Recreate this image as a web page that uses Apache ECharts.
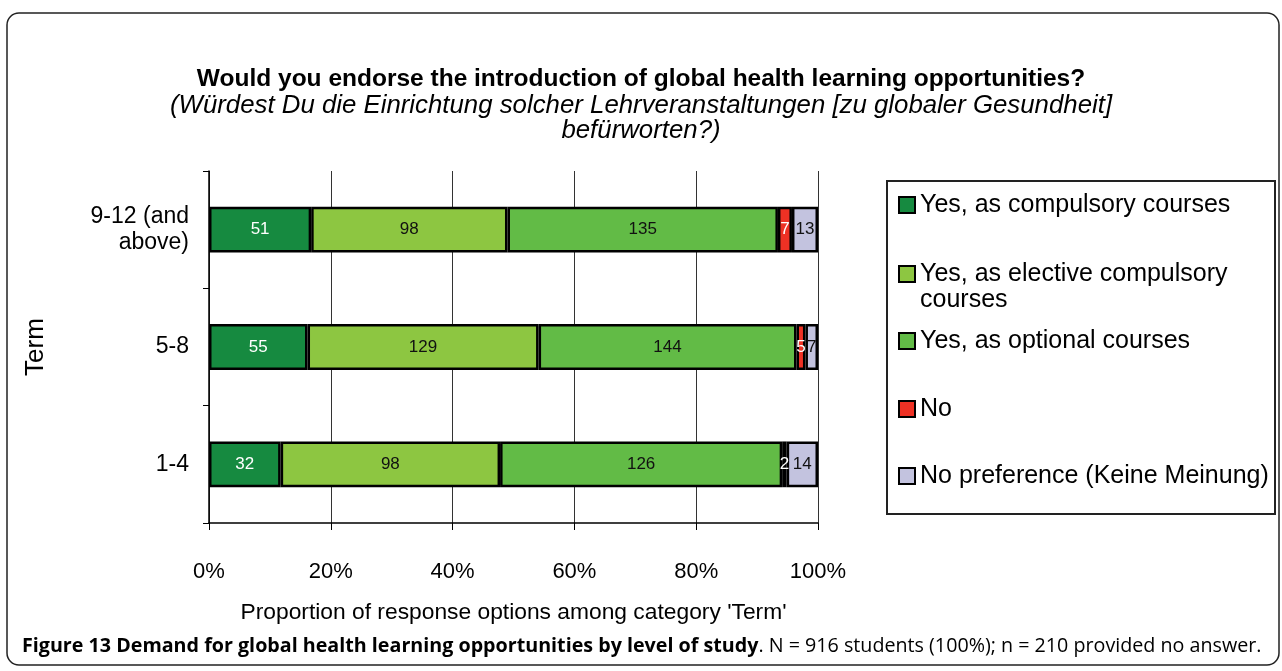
<!DOCTYPE html>
<html>
<head>
<meta charset="utf-8">
<script src="https://cdn.jsdelivr.net/npm/echarts@6/dist/echarts.min.js"></script>
<style>
html,body{margin:0;padding:0;background:#fff;}
#chart{width:1282px;height:671px;}
</style>
</head>
<body>
<div id="chart"></div>
<script>
// ---- data ----
var categories = ['1-4', '5-8', '9-12 (and\nabove)'];
var seriesNames = ['Yes, as compulsory courses', 'Yes, as elective compulsory courses', 'Yes, as optional courses', 'No', 'No preference (Keine Meinung)'];
var compulsory = [32, 55, 51];
var elective = [98, 129, 98];
var optional = [126, 144, 135];
var no = [2, 5, 7];
var noPreference = [14, 7, 13];
var xTicks = [0, 20, 40, 60, 80, 100];

var colors = ['#168A40', '#8DC641', '#62BB46', '#EE3124', '#C3C3DF'];
var labelColors = ['#fff', '#111', '#111', '#fff', '#111'];
var counts = [compulsory, elective, optional, no, noPreference];

var totals = categories.map(function (c, i) {
  return counts.reduce(function (s, arr) { return s + arr[i]; }, 0);
});

var FONT = 'Liberation Sans, Arial, sans-serif';

var series = counts.map(function (arr, k) {
  return {
    name: seriesNames[k],
    type: 'bar',
    stack: 'total',
    barWidth: '39%',
    data: arr.map(function (v, i) { return { value: v / totals[i] * 100, count: v }; }),
    itemStyle: { color: colors[k], borderColor: '#000', borderWidth: 2.5 },
    label: {
      show: true,
      position: 'inside',
      fontFamily: FONT,
      fontSize: 17,
      color: labelColors[k],
      formatter: function (p) { return p.data.count; }
    },
    emphasis: { disabled: true }
  };
});

var legendTops = [187, 230, 323, 391, 458];
var legends = seriesNames.map(function (n, k) {
  var isTwo = (k === 1);
  return {
    data: [n],
    left: 893,
    top: legendTops[k],
    orient: 'vertical',
    icon: 'rect',
    itemWidth: 16,
    itemHeight: 16,
    selectedMode: false,
    formatter: isTwo ? '\u00a0\nYes, as elective compulsory\ncourses' : '{name}',
    textStyle: { fontFamily: FONT, fontSize: 25, color: '#000', lineHeight: 26 },
    itemStyle: { borderColor: '#000', borderWidth: 2 }
  };
});

var chart = echarts.init(document.getElementById('chart'), null, { renderer: 'canvas' });
chart.setOption({
  animation: false,
  backgroundColor: '#fff',
  title: [
    {
      text: 'Would you endorse the introduction of global health learning opportunities?',
      left: 'center', top: 62,
      textStyle: { fontFamily: FONT, fontSize: 24.5, fontWeight: 'bold', color: '#000' }
    },
    {
      text: '(Würdest Du die Einrichtung solcher Lehrveranstaltungen [zu globaler Gesundheit]',
      left: 'center', top: 88,
      textStyle: { fontFamily: FONT, fontSize: 25.8, fontStyle: 'italic', fontWeight: 'normal', color: '#000' }
    },
    {
      text: 'befürworten?)',
      left: 'center', top: 113,
      textStyle: { fontFamily: FONT, fontSize: 25.8, fontStyle: 'italic', fontWeight: 'normal', color: '#000' }
    },
    {
      text: '{b|Figure 13 Demand for global health learning opportunities by level of study}{n|. N = 916 students (100%); n = 210 provided no answer.}',
      left: 17, top: 631,
      textStyle: {
        rich: {
          b: { fontFamily: 'Open Sans', fontSize: 19.7, fontWeight: 'bold', color: '#000' },
          n: { fontFamily: 'Open Sans', fontSize: 19.7, fontWeight: 'normal', color: '#000' }
        }
      }
    }
  ],
  legend: legends,
  grid: { left: 209, right: 464, top: 171, bottom: 148, containLabel: false },
  xAxis: {
    type: 'value',
    min: xTicks[0], max: xTicks[xTicks.length - 1], interval: 20,
    name: "Proportion of response options among category 'Term'",
    nameLocation: 'middle', nameGap: 78,
    nameTextStyle: { fontFamily: FONT, fontSize: 22.8, color: '#000' },
    axisLine: { show: true, lineStyle: { color: '#000', width: 1.5 } },
    axisTick: { show: true, length: 7, lineStyle: { color: '#000' } },
    axisLabel: { margin: 38, fontFamily: FONT, fontSize: 22, color: '#000', formatter: '{value}%' },
    splitLine: { show: true, lineStyle: { color: '#333', width: 1 } }
  },
  yAxis: {
    type: 'category',
    data: categories,
    name: 'Term',
    nameLocation: 'middle', nameGap: 160, nameRotate: 90,
    nameTextStyle: { fontFamily: FONT, fontSize: 26, color: '#000' },
    axisLine: { show: true, lineStyle: { color: '#000', width: 1.5 } },
    axisTick: { show: true, length: 6, lineStyle: { color: '#000' } },
    axisLabel: { margin: 20, fontFamily: FONT, fontSize: 23, color: '#000', lineHeight: 26, align: 'right' },
    splitLine: { show: false }
  },
  graphic: [
    {
      type: 'rect', silent: true, z: -1,
      shape: { x: 7, y: 13, width: 1272, height: 652, r: 12 },
      style: { fill: null, stroke: '#222', lineWidth: 1.5 }
    },
    {
      type: 'rect', silent: true,
      shape: { x: 887, y: 181, width: 388, height: 333 },
      style: { fill: null, stroke: '#222', lineWidth: 2 }
    }
  ],
  series: series
});
</script>
</body>
</html>
